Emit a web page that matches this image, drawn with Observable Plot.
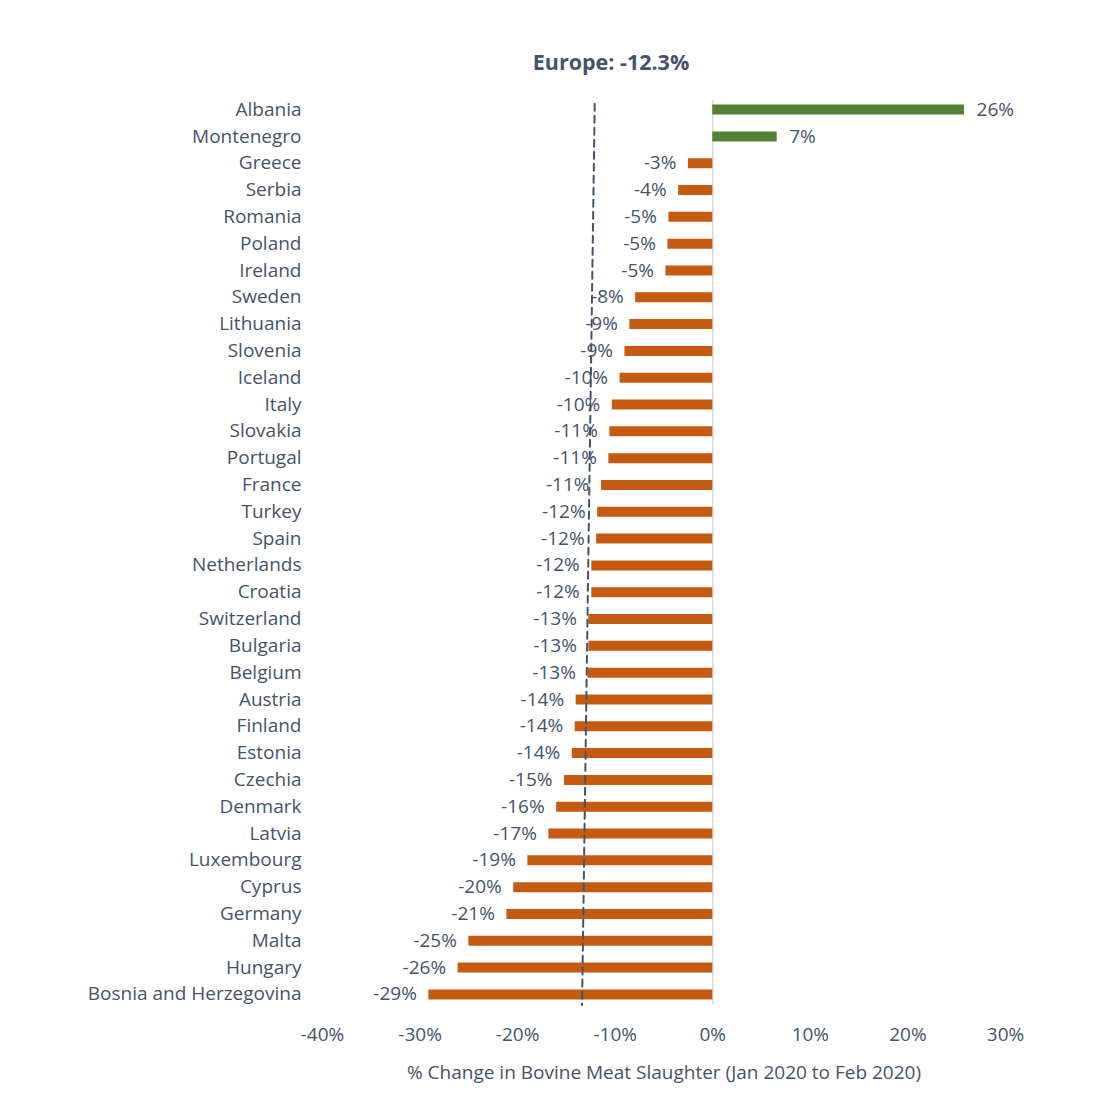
<!DOCTYPE html>
<html>
<head>
<meta charset="utf-8">
<script src="https://cdn.jsdelivr.net/npm/d3@7"></script>
<script src="https://cdn.jsdelivr.net/npm/@observablehq/plot@0.6"></script>
<style>
  html, body { margin: 0; padding: 0; background: #fff; }
  #wrap { position: relative; width: 1109px; }
  #title { position: relative; height: 80px; font-family: "Open Sans", Lato, sans-serif; }
  #title span { position: absolute; left: 611px; top: 48px; transform: translateX(-50%);
    font-size: 21.5px; line-height: 28px; font-weight: 700; color: #44546a; white-space: nowrap; }
</style>
</head>
<body>
<div id="wrap">
  <div id="title"><span>Europe: -12.3%</span></div>
  <div id="chart"></div>
</div>
<script>
const countries = ["Albania","Montenegro","Greece","Serbia","Romania","Poland","Ireland","Sweden",
  "Lithuania","Slovenia","Iceland","Italy","Slovakia","Portugal","France","Turkey","Spain",
  "Netherlands","Croatia","Switzerland","Bulgaria","Belgium","Austria","Finland","Estonia",
  "Czechia","Denmark","Latvia","Luxembourg","Cyprus","Germany","Malta","Hungary",
  "Bosnia and Herzegovina"];
const values = [25.8, 6.6, -2.5, -3.5, -4.5, -4.6, -4.8, -7.9,
  -8.5, -9.0, -9.5, -10.3, -10.55, -10.65, -11.4, -11.8, -11.9,
  -12.4, -12.4, -12.7, -12.7, -12.8, -14.0, -14.1, -14.4,
  -15.2, -16.0, -16.8, -18.95, -20.4, -21.1, -25.0, -26.1,
  -29.1];
const xTicks = [-40, -30, -20, -10, 0, 10, 20, 30];
// Europe average reference line (drawn slightly slanted in the original)
const avgLineX = [-12.1, -13.4];
const avgLineY = [-0.22, 33.4];

const data = countries.map((c, i) => ({country: c, index: i, value: values[i]}));
const avgLine = avgLineX.map((x, i) => ({x, y: avgLineY[i]}));
const fmt = v => (v < 0 ? "-" : "") + Math.round(Math.abs(v)) + "%";

const textColor = "#44546a";
const fs = 19;

const chart = Plot.plot({
  width: 1109,
  height: 1033,
  marginLeft: 322,
  marginRight: 104,
  marginTop: 9,
  marginBottom: 99,
  style: {fontFamily: "'Open Sans', Lato, sans-serif", fontSize: fs + "px", color: textColor, background: "#fff"},
  x: {domain: [-40, 30]},
  y: {domain: [-0.75, countries.length - 1 + 0.75], reverse: true},
  marks: [
    Plot.ruleX([0], {y1: -0.35, y2: 33.4, stroke: "#d9d9d9", strokeWidth: 1.5}),
    Plot.ruleY(data, {y: "index", x1: 0, x2: "value", strokeWidth: 10,
      stroke: d => d.value >= 0 ? "#548235" : "#c55a11"}),
    Plot.line(avgLine, {x: "x", y: "y", stroke: textColor, strokeWidth: 2, strokeDasharray: "7,5"}),
    Plot.text(data.filter(d => d.value < 0), {x: "value", y: "index", text: d => fmt(d.value),
      textAnchor: "end", dx: -12, fill: textColor, fontSize: fs}),
    Plot.text(data.filter(d => d.value >= 0), {x: "value", y: "index", text: d => fmt(d.value),
      textAnchor: "start", dx: 12, fill: textColor, fontSize: fs}),
    Plot.axisY({ticks: d3.range(countries.length), tickFormat: i => countries[i],
      tickSize: 0, tickPadding: 21, label: null, fontSize: fs}),
    Plot.axisX({ticks: xTicks, tickFormat: d => d + "%", tickSize: 0, tickPadding: 13,
      label: "% Change in Bovine Meat Slaughter (Jan 2020 to Feb 2020)", labelAnchor: "center",
      labelArrow: "none", labelOffset: 64, fontSize: fs})
  ]
});
document.getElementById("chart").appendChild(chart);
</script>
</body>
</html>
